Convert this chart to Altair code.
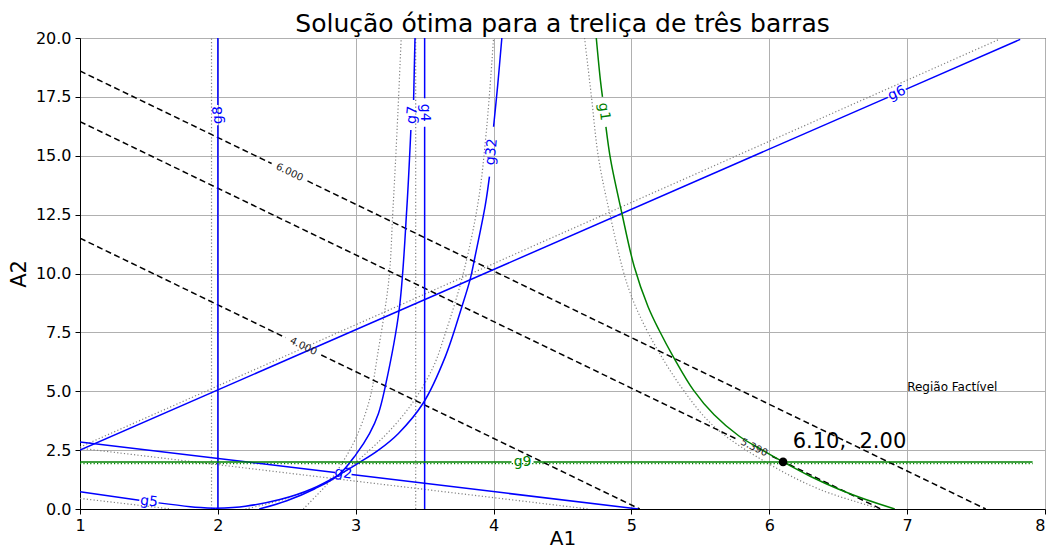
import altair as alt
import pandas as pd

FONT = "DejaVu Sans"
BLUE = "#0000ff"
GREEN = "#008000"

TITLE = "Solução ótima para a treliça de três barras"
X_TICKS = [1, 2, 3, 4, 5, 6, 7, 8]
Y_TICKS = [0, 2.5, 5, 7.5, 10, 12.5, 15, 17.5, 20]

# ---- objective contours (dashed), segments split where the level label sits ----
OBJ_6000 = [[(1.00, 18.60), (2.39, 14.67)], [(2.65, 13.93), (7.57, 0.00)]]
OBJ_5390 = [[(1.00, 16.45), (5.76, 2.98)], [(6.02, 2.24), (6.81, 0.00)]]
OBJ_4000 = [[(1.00, 11.50), (2.49, 7.28)], [(2.75, 6.54), (5.06, 0.00)]]

# ---- constraint contours (solid) ----
G8 = [[(2.0, 0.0), (2.0, 16.3)], [(2.0, 17.15), (2.0, 20.0)]]
G4 = [[(3.5, 0.0), (3.5, 16.23)], [(3.5, 17.44), (3.5, 20.0)]]
G6 = [[(1.0, 2.5), (6.86, 17.48)], [(6.99, 17.82), (7.82, 19.94)]]
G2 = [[(1.0, 2.85), (2.85, 1.55)], [(2.97, 1.46), (5.05, 0.0)]]
G5 = [[(1.0, 0.73), (1.43, 0.37)], [(1.57, 0.26), (1.8, 0.1), (1.98, 0.03)]]
G7 = [[(2.30, 0.0), (2.5, 0.35), (2.7, 0.85), (2.875, 1.44), (3.0, 2.3), (3.1, 3.2),
       (3.165, 4.06), (3.214, 5.19), (3.315, 8.45), (3.37, 12.7), (3.40, 16.09)],
      [(3.42, 17.37), (3.43, 20.0)]]
G32 = [[(1.98, 0.03), (2.2, 0.12), (2.45, 0.4), (2.68, 0.85), (2.875, 1.44), (3.02, 1.95),
        (3.165, 2.5), (3.31, 3.21), (3.49, 4.5), (3.65, 6.47), (3.77, 8.59), (3.83, 9.75),
        (3.865, 10.7), (3.94, 12.9), (3.97, 14.11)],
       [(4.0, 16.23), (4.03, 18.0), (4.06, 20.0)]]
G1 = [[(4.745, 20.0), (4.775, 18.2), (4.79, 17.5)],
      [(4.815, 16.23), (4.85, 14.8), (4.93, 12.58), (5.02, 10.3), (5.12, 8.6), (5.2, 7.6),
       (5.31, 6.4), (5.45, 5.05), (5.6, 4.0), (5.78, 3.1), (5.95, 2.5), (6.10, 2.0),
       (6.3, 1.38), (6.5, 0.85), (6.7, 0.4), (6.91, 0.0)]]
G9 = [[(1.0, 2.0), (4.13, 2.0)], [(4.29, 2.0), (7.91, 2.0)]]

# ---- dotted companions ----
D8 = [[(1.954, 0.0), (1.954, 20.0)]]
D4 = [[(3.435, 0.0), (3.435, 20.0)]]
D6 = [[(1.0, 2.63), (7.67, 19.95)]]
D2 = [[(1.0, 2.58), (4.69, 0.0)]]
D5 = [[(1.0, 0.45), (1.66, 0.0)]]
D7 = [[(2.62, 0.0), (2.72, 0.6), (2.80, 1.1), (2.90, 1.94), (3.0, 3.0), (3.10, 4.63),
       (3.16, 6.6), (3.24, 9.72), (3.27, 12.7), (3.30, 16.1), (3.33, 20.0)]]
D32 = [[(2.2, 0.0), (2.5, 0.45), (2.85, 1.3), (3.1, 2.5), (3.25, 3.35), (3.41, 4.49),
        (3.56, 6.0), (3.65, 7.46), (3.78, 10.0), (3.89, 13.1), (3.95, 16.2), (4.0, 20.0)]]
D1 = [[(4.66, 20.0), (4.71, 17.5), (4.76, 14.96), (4.84, 12.62), (4.975, 9.44), (5.12, 7.5),
       (5.36, 5.19), (5.60, 3.5), (5.99, 1.94), (6.375, 0.81), (6.81, 0.0)]]
D9 = [[(1.0, 1.93), (7.91, 1.93)]]

# ---- labels ----
G_LABEL_TEXT = ["g8", "g7", "g4", "g32", "g6", "g5", "g2"]
G_LABEL_A1 = [2.0, 3.41, 3.5, 3.985, 6.925, 1.50, 2.91]
G_LABEL_A2 = [16.73, 16.73, 16.83, 15.17, 17.65, 0.32, 1.51]
G_LABEL_ANGLE = [270, 275, 90, 275, 336.4, 6.7, 6.8]
GREEN_LABEL_TEXT = ["g1", "g9"]
GREEN_LABEL_A1 = [4.80, 4.21]
GREEN_LABEL_A2 = [16.87, 2.0]
GREEN_LABEL_ANGLE = [83, 0]
LEVEL_TEXT = ["6.000", "5.390", "4.000"]
LEVEL_A1 = [2.52, 5.89, 2.62]
LEVEL_A2 = [14.3, 2.61, 6.91]
LEVEL_ANGLE = [25.8, 25.8, 25.8]

OPT_A1 = [6.10]
OPT_A2 = [2.00]
OPT_TEXT = ["6.10,\u00a0 2.00"]
OPT_TEXT_A1 = [6.17]
OPT_TEXT_A2 = [2.58]
REGION_TEXT = ["Região Factível"]
REGION_A1 = [7.0]
REGION_A2 = [5.0]

W, H = 965, 471

xs = alt.Scale(domain=[1, 8], nice=False, zero=False)
ys = alt.Scale(domain=[0, 20], nice=False, zero=False)
x_axis = alt.Axis(values=X_TICKS, format="d", title="A1", labelPadding=3,
                  labelAlign=alt.expr("datum.value == 8 ? 'right' : 'center'"),
                  titleFontSize=20, titleY=35, titleBaseline="alphabetic")
y_axis = alt.Axis(values=Y_TICKS, format=".1f", title="A2", labelPadding=4, titlePadding=6,
                  titleFontSize=21)
X = alt.X("A1:Q", scale=xs, axis=x_axis)
Y = alt.Y("A2:Q", scale=ys, axis=y_axis)


def frame(series):
    rows = []
    for name, segs in series.items():
        for si, seg in enumerate(segs):
            for pi, (a1, a2) in enumerate(seg):
                rows.append({"A1": a1, "A2": a2, "key": f"{name}_{si}", "ord": pi})
    return pd.DataFrame(rows)


def lines(series, **mark):
    return alt.Chart(frame(series)).mark_line(interpolate="catmull-rom", clip=True, **mark).encode(
        x=X, y=Y, detail="key:N", order="ord:Q")


dotted_gray = lines({"d8": D8, "d4": D4, "d6": D6, "d2": D2, "d5": D5, "d7": D7,
                     "d32": D32, "d1": D1},
                    color="#808080", strokeWidth=1.2, strokeDash=[1.2, 2.2])
dotted_green = lines({"d9": D9}, color=GREEN, strokeWidth=1.2, strokeDash=[1.2, 2.2])
dashed = lines({"o6": OBJ_6000, "o5": OBJ_5390, "o4": OBJ_4000},
               color="black", strokeWidth=1.5, strokeDash=[6, 3.5])
blue = lines({"g8": G8, "g4": G4, "g6": G6, "g2": G2, "g5": G5, "g7": G7, "g32": G32},
             color=BLUE, strokeWidth=1.5)
green = lines({"g1": G1, "g9": G9}, color=GREEN, strokeWidth=1.5)


def labels(texts, a1, a2, ang, color, size):
    df = pd.DataFrame({"t": texts, "A1": a1, "A2": a2, "ang": ang})
    return alt.Chart(df).mark_text(font=FONT, fontSize=size, color=color, align="center",
                                   baseline="middle").encode(
        x=X, y=Y, text="t:N", angle=alt.Angle("ang:Q", scale=None))


blue_lbl = labels(G_LABEL_TEXT, G_LABEL_A1, G_LABEL_A2, G_LABEL_ANGLE, BLUE, 14)
green_lbl = labels(GREEN_LABEL_TEXT, GREEN_LABEL_A1, GREEN_LABEL_A2, GREEN_LABEL_ANGLE, GREEN, 14)
level_lbl = labels(LEVEL_TEXT, LEVEL_A1, LEVEL_A2, LEVEL_ANGLE, "#222222", 10)

opt_pt = alt.Chart(pd.DataFrame({"A1": OPT_A1, "A2": OPT_A2})).mark_circle(
    size=75, color="black", opacity=1).encode(x=X, y=Y)
opt_txt = alt.Chart(pd.DataFrame({"A1": OPT_TEXT_A1, "A2": OPT_TEXT_A2, "t": OPT_TEXT})).mark_text(
    font=FONT, fontSize=21, color="black", align="left", baseline="alphabetic").encode(
    x=X, y=Y, text="t:N")
reg_txt = alt.Chart(pd.DataFrame({"A1": REGION_A1, "A2": REGION_A2, "t": REGION_TEXT})).mark_text(
    font=FONT, fontSize=12, color="black", align="left", baseline="alphabetic").encode(
    x=X, y=Y, text="t:N")
title_txt = alt.Chart(pd.DataFrame({"t": [TITLE]})).mark_text(
    font=FONT, fontSize=25, color="black", align="center", baseline="alphabetic").encode(
    x=alt.value(W / 2), y=alt.value(-6), text="t:N")

chart = alt.layer(
    dotted_gray, dotted_green, dashed, blue, green,
    blue_lbl, green_lbl, level_lbl, opt_pt, opt_txt, reg_txt, title_txt
).properties(
    width=W, height=H,
    autosize=alt.AutoSizeParams(type="none"),
    padding={"left": 72, "top": 30, "right": 1, "bottom": 39},
).configure_view(
    stroke="black", strokeWidth=1
).configure_axis(
    labelFont=FONT, labelFontSize=16, labelColor="black",
    titleFont=FONT, titleFontWeight="normal", titleColor="black",
    tickColor="black", tickSize=5, domainColor="black", domainWidth=1,
    gridColor="#b0b0b0", gridWidth=1, labelFlush=False, labelOverlap=False,
)

chart.save("out.html", embed_options={"renderer": "svg", "actions": False})
